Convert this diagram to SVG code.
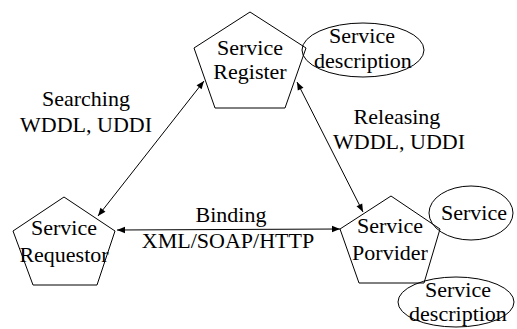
<svg xmlns="http://www.w3.org/2000/svg" width="517" height="329" viewBox="0 0 517 329">
<style>
.s{fill:none;stroke:#000;stroke-width:1}
text{font-family:'Liberation Serif','Times New Roman',Times,serif;font-size:22px;fill:#000;text-anchor:middle}
.c{stroke:#000;stroke-width:1;fill:none;marker-start:url(#h);marker-end:url(#h)}
</style>
<defs>
<marker id="h" viewBox="0 0 10 10" refX="10" refY="5" markerWidth="10" markerHeight="8" markerUnits="userSpaceOnUse" orient="auto-start-reverse">
<path d="M0,1 L10,5 L0,9 Z" fill="#000"/>
</marker>
</defs>
<rect width="517" height="329" fill="#fff"/>
<g id="connectors">
<line class="c" x1="98" y1="216" x2="204" y2="81"/>
<line class="c" x1="297" y1="82" x2="363" y2="212"/>
<line class="c" x1="117" y1="230" x2="340" y2="229"/>
</g>
<g id="register">
<polygon class="s" points="250,12 306,48 285,108 215,108 194,48"/>
<text x="250" y="55">Service</text>
<text x="250" y="79">Register</text>
</g>
<g id="register-desc">
<ellipse class="s" cx="363" cy="50" rx="61" ry="27"/>
<text x="362" y="43">Service</text>
<text x="363" y="68">description</text>
</g>
<g id="requestor">
<polygon class="s" points="64,197 115,231 97,285 33,285 13,231"/>
<text x="64" y="235">Service</text>
<text x="64" y="262">Requestor</text>
</g>
<g id="provider">
<polygon class="s" points="391,196 440,229 424,283 359,283 340,229"/>
<text x="390" y="233">Service</text>
<text x="390" y="260">Porvider</text>
</g>
<g id="service">
<ellipse class="s" cx="471" cy="213" rx="42" ry="27"/>
<text x="474" y="220">Service</text>
</g>
<g id="provider-desc">
<ellipse class="s" cx="456" cy="302" rx="58" ry="25"/>
<text x="458" y="297">Service</text>
<text x="458" y="321">description</text>
</g>
<g id="labels">
<text x="86" y="106">Searching</text>
<text x="86" y="132">WDDL, UDDI</text>
<text x="397" y="124">Releasing</text>
<text x="399" y="149">WDDL, UDDI</text>
<text x="231" y="222">Binding</text>
<text x="228" y="248">XML/SOAP/HTTP</text>
</g>
</svg>
